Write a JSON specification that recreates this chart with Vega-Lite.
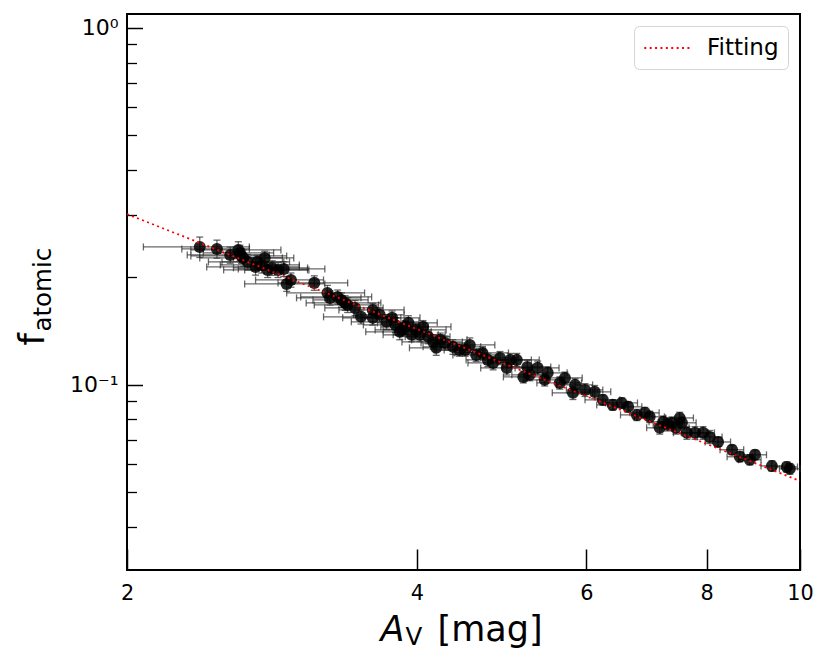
{
 "$schema": "https://vega.github.io/schema/vega-lite/v6.json",
 "width": 673, "height": 556,
 "autosize": {"type": "none"},
 "padding": {"left": 127, "top": 14, "right": 30, "bottom": 94},
 "background": "white",
 "config": {"view": {"stroke": "black", "strokeWidth": 2}, "font": "DejaVu Sans"},
 "datasets": {
  "pts": [
   {"av":2.38,"f":0.2435,"xe":0.30,"ye":0.016},{"av":2.48,"f":0.2404,"xe":0.20,"ye":0.014},{"av":2.56,"f":0.2312,"xe":0.25,"ye":0.012},
   {"av":2.61,"f":0.2388,"xe":0.28,"ye":0.013},{"av":2.62,"f":0.2342,"xe":0.22,"ye":0.012},{"av":2.63,"f":0.2297,"xe":0.30,"ye":0.011},
   {"av":2.64,"f":0.2268,"xe":0.26,"ye":0.012},{"av":2.67,"f":0.2211,"xe":0.24,"ye":0.011},{"av":2.72,"f":0.2140,"xe":0.30,"ye":0.011},
   {"av":2.73,"f":0.2211,"xe":0.22,"ye":0.010},{"av":2.76,"f":0.2168,"xe":0.26,"ye":0.011},{"av":2.78,"f":0.2268,"xe":0.20,"ye":0.010},
   {"av":2.80,"f":0.2099,"xe":0.28,"ye":0.010},{"av":2.83,"f":0.2127,"xe":0.25,"ye":0.010},{"av":2.87,"f":0.2099,"xe":0.22,"ye":0.010},
   {"av":2.91,"f":0.2113,"xe":0.30,"ye":0.010},{"av":2.93,"f":0.1918,"xe":0.28,"ye":0.009},{"av":2.96,"f":0.1968,"xe":0.24,"ye":0.009},
   {"av":3.13,"f":0.1931,"xe":0.26,"ye":0.009},{"av":3.23,"f":0.1810,"xe":0.30,"ye":0.009},{"av":3.25,"f":0.1753,"xe":0.25,"ye":0.008},
   {"av":3.31,"f":0.1764,"xe":0.28,"ye":0.008},{"av":3.34,"f":0.1730,"xe":0.22,"ye":0.008},{"av":3.37,"f":0.1697,"xe":0.30,"ye":0.008},
   {"av":3.39,"f":0.1675,"xe":0.26,"ye":0.008},{"av":3.45,"f":0.1643,"xe":0.24,"ye":0.008},{"av":3.50,"f":0.1551,"xe":0.30,"ye":0.007},
   {"av":3.60,"f":0.1622,"xe":0.28,"ye":0.007},{"av":3.60,"f":0.1541,"xe":0.25,"ye":0.007},{"av":3.66,"f":0.1571,"xe":0.22,"ye":0.007},
   {"av":3.72,"f":0.1502,"xe":0.30,"ye":0.007},{"av":3.77,"f":0.1541,"xe":0.26,"ye":0.007},{"av":3.80,"f":0.1472,"xe":0.28,"ye":0.007},
   {"av":3.84,"f":0.1408,"xe":0.30,"ye":0.007},{"av":3.86,"f":0.1426,"xe":0.24,"ye":0.006},{"av":3.89,"f":0.1454,"xe":0.22,"ye":0.006},
   {"av":3.92,"f":0.1492,"xe":0.28,"ye":0.007},{"av":3.95,"f":0.1381,"xe":0.26,"ye":0.006},{"av":3.99,"f":0.1426,"xe":0.30,"ye":0.006},
   {"av":4.03,"f":0.1381,"xe":0.25,"ye":0.006},{"av":4.06,"f":0.1454,"xe":0.28,"ye":0.006},{"av":4.11,"f":0.1364,"xe":0.22,"ye":0.006},
   {"av":4.16,"f":0.1319,"xe":0.30,"ye":0.006},{"av":4.19,"f":0.1270,"xe":0.26,"ye":0.006},{"av":4.23,"f":0.1337,"xe":0.28,"ye":0.006},
   {"av":4.28,"f":0.1311,"xe":0.24,"ye":0.006},{"av":4.36,"f":0.1278,"xe":0.30,"ye":0.006},{"av":4.43,"f":0.1253,"xe":0.26,"ye":0.005},
   {"av":4.49,"f":0.1253,"xe":0.22,"ye":0.005},{"av":4.54,"f":0.1294,"xe":0.28,"ye":0.006},{"av":4.61,"f":0.1213,"xe":0.25,"ye":0.005},
   {"av":4.68,"f":0.1229,"xe":0.30,"ye":0.005},{"av":4.74,"f":0.1175,"xe":0.24,"ye":0.005},{"av":4.80,"f":0.1152,"xe":0.28,"ye":0.005},
   {"av":4.88,"f":0.1190,"xe":0.22,"ye":0.005},{"av":4.96,"f":0.1116,"xe":0.30,"ye":0.005},{"av":5.00,"f":0.1175,"xe":0.26,"ye":0.005},
   {"av":5.08,"f":0.1175,"xe":0.28,"ye":0.005},{"av":5.16,"f":0.1053,"xe":0.24,"ye":0.004},{"av":5.21,"f":0.1123,"xe":0.30,"ye":0.005},
   {"av":5.24,"f":0.1067,"xe":0.22,"ye":0.004},{"av":5.34,"f":0.1116,"xe":0.28,"ye":0.005},{"av":5.43,"f":0.1033,"xe":0.25,"ye":0.004},
   {"av":5.47,"f":0.1081,"xe":0.26,"ye":0.004},{"av":5.63,"f":0.1013,"xe":0.30,"ye":0.004},{"av":5.70,"f":0.1046,"xe":0.24,"ye":0.004},
   {"av":5.81,"f":0.0950,"xe":0.28,"ye":0.004},{"av":5.84,"f":0.1000,"xe":0.25,"ye":0.004},{"av":5.98,"f":0.0968,"xe":0.26,"ye":0.004},
   {"av":6.12,"f":0.0956,"xe":0.24,"ye":0.004},{"av":6.24,"f":0.0908,"xe":0.26,"ye":0.003},{"av":6.39,"f":0.0879,"xe":0.24,"ye":0.003},
   {"av":6.53,"f":0.0890,"xe":0.25,"ye":0.003},{"av":6.63,"f":0.0868,"xe":0.22,"ye":0.003},{"av":6.77,"f":0.0824,"xe":0.26,"ye":0.003},
   {"av":6.90,"f":0.0835,"xe":0.24,"ye":0.003},{"av":6.98,"f":0.0814,"xe":0.25,"ye":0.003},{"av":7.15,"f":0.0758,"xe":0.22,"ye":0.003},
   {"av":7.21,"f":0.0788,"xe":0.24,"ye":0.003},{"av":7.29,"f":0.0773,"xe":0.25,"ye":0.003},{"av":7.36,"f":0.0783,"xe":0.22,"ye":0.003},
   {"av":7.43,"f":0.0758,"xe":0.24,"ye":0.003},{"av":7.50,"f":0.0808,"xe":0.25,"ye":0.003},{"av":7.54,"f":0.0783,"xe":0.26,"ye":0.003},
   {"av":7.63,"f":0.0734,"xe":0.24,"ye":0.003},{"av":7.78,"f":0.0734,"xe":0.25,"ye":0.003},{"av":7.93,"f":0.0734,"xe":0.22,"ye":0.003},
   {"av":8.06,"f":0.0715,"xe":0.24,"ye":0.003},{"av":8.22,"f":0.0692,"xe":0.25,"ye":0.002},{"av":8.50,"f":0.0658,"xe":0.24,"ye":0.002},
   {"av":8.66,"f":0.0629,"xe":0.26,"ye":0.002},{"av":8.87,"f":0.0617,"xe":0.24,"ye":0.002},{"av":8.98,"f":0.0637,"xe":0.25,"ye":0.002},
   {"av":9.35,"f":0.0593,"xe":0.24,"ye":0.002},{"av":9.69,"f":0.0589,"xe":0.25,"ye":0.002},{"av":9.76,"f":0.0582,"xe":0.24,"ye":0.002}
  ],
  "fit": [{"av":2,"f":0.301,"s":"Fitting"},{"av":10,"f":0.0538,"s":"Fitting"}]
 },
 "resolve": {"axis": {"x": "independent", "y": "independent"}},
 "layer": [
  {
   "data": {"name": "pts"},
   "mark": {"type": "errorbar", "ticks": true, "size": 7, "thickness": 1.3, "color": "#2a2a2a", "opacity": 0.7},
   "encoding": {
    "x": {"field": "av", "type": "quantitative", "scale": {"type": "log", "domain": [2, 10], "nice": false},
          "axis": {"orient": "bottom", "labels": false, "ticks": false, "domain": false, "grid": false,
                   "title": "V", "titleFont": "DejaVu Sans", "titleFontSize": 24.5, "titleFontWeight": "normal", "titleColor": "black",
                   "titleX": 278, "titleY": 74, "titleAlign": "left", "titleBaseline": "alphabetic"}},
    "xError": {"field": "xe"},
    "y": {"field": "f", "type": "quantitative", "scale": {"type": "log", "domain": [0.0303, 1.094], "nice": false}, "axis": null}
   }
  },
  {
   "data": {"name": "pts"},
   "mark": {"type": "errorbar", "ticks": true, "size": 7, "thickness": 1.3, "color": "#2a2a2a", "opacity": 0.7},
   "encoding": {
    "x": {"field": "av", "type": "quantitative", "scale": {"type": "log", "domain": [2, 10], "nice": false}, "axis": null},
    "y": {"field": "f", "type": "quantitative", "scale": {"type": "log", "domain": [0.0303, 1.094], "nice": false}, "axis": null},
    "yError": {"field": "ye"}
   }
  },
  {
   "data": {"name": "pts"},
   "mark": {"type": "circle", "size": 145, "color": "black", "opacity": 0.85},
   "encoding": {
    "x": {"field": "av", "type": "quantitative", "scale": {"type": "log", "domain": [2, 10], "nice": false},
          "axis": {"orient": "bottom", "labels": false, "ticks": false, "domain": false, "grid": false,
                   "title": "A", "titleFont": "DejaVu Sans", "titleFontStyle": "italic", "titleFontSize": 35, "titleFontWeight": "normal", "titleColor": "black",
                   "titleX": 253, "titleY": 70, "titleAlign": "left", "titleBaseline": "alphabetic"}},
    "y": {"field": "f", "type": "quantitative", "scale": {"type": "log", "domain": [0.0303, 1.094], "nice": false},
          "axis": {"orient": "left", "values": [0.04,0.05,0.06,0.07,0.08,0.09,0.2,0.3,0.4,0.5,0.6,0.7,0.8,0.9],
                   "labels": false, "ticks": true, "tickSize": -9.5, "tickWidth": 1.3, "tickColor": "black", "domain": false, "grid": false,
                   "title": "atomic", "titleFont": "DejaVu Sans", "titleFontSize": 24.5, "titleFontWeight": "normal", "titleColor": "black",
                   "titleAngle": 270, "titleX": -77, "titleY": 317, "titleAlign": "left", "titleBaseline": "alphabetic"}}
   }
  },
  {
   "data": {"name": "fit"},
   "mark": {"type": "line", "strokeDash": [2, 3.4], "strokeWidth": 1.8},
   "encoding": {
    "x": {"field": "av", "type": "quantitative", "scale": {"type": "log", "domain": [2, 10], "nice": false},
          "axis": {"orient": "bottom", "values": [2,4,6,8,10], "labelExpr": "format(datum.value, 'd')",
                   "labelFont": "DejaVu Sans", "labelFontSize": 20.8, "labelColor": "black", "labelPadding": 34,
                   "labelFlush": false, "labelOverlap": false, "labelBound": false,
                   "ticks": true, "tickSize": -21, "tickWidth": 1.5, "tickColor": "black", "domain": false, "grid": false,
                   "title": "[mag]", "titleFont": "DejaVu Sans", "titleFontSize": 35, "titleFontWeight": "normal", "titleColor": "black",
                   "titleX": 310, "titleY": 70, "titleAlign": "left", "titleBaseline": "alphabetic"}},
    "y": {"field": "f", "type": "quantitative", "scale": {"type": "log", "domain": [0.0303, 1.094], "nice": false},
          "axis": {"orient": "left", "values": [0.1, 1], "labelExpr": "datum.value >= 0.5 ? '10⁰' : '10⁻¹'",
                   "labelFont": "DejaVu Sans", "labelFontSize": 22, "labelColor": "black", "labelPadding": 24.5,
                   "labelFlush": false, "labelOverlap": false, "labelBound": false,
                   "ticks": true, "tickSize": -15.5, "tickWidth": 1.5, "tickColor": "black", "domain": false, "grid": false,
                   "title": "f", "titleFont": "DejaVu Sans", "titleFontSize": 35, "titleFontWeight": "normal", "titleColor": "black",
                   "titleAngle": 270, "titleX": -84, "titleY": 331, "titleAlign": "left", "titleBaseline": "alphabetic"}},
    "color": {"field": "s", "type": "nominal", "scale": {"range": ["#ff0000"]},
              "legend": {"orient": "top-right", "offset": 12, "padding": 9, "title": null,
                         "fillColor": "white", "strokeColor": "#d4d4d4", "cornerRadius": 5,
                         "symbolType": "M-1,0H3", "symbolSize": 552, "symbolDash": [2, 3.4], "symbolStrokeWidth": 1.8,
                         "labelFont": "DejaVu Sans", "labelFontSize": 23, "labelColor": "black", "labelOffset": 38}}
   }
  }
 ]
}
